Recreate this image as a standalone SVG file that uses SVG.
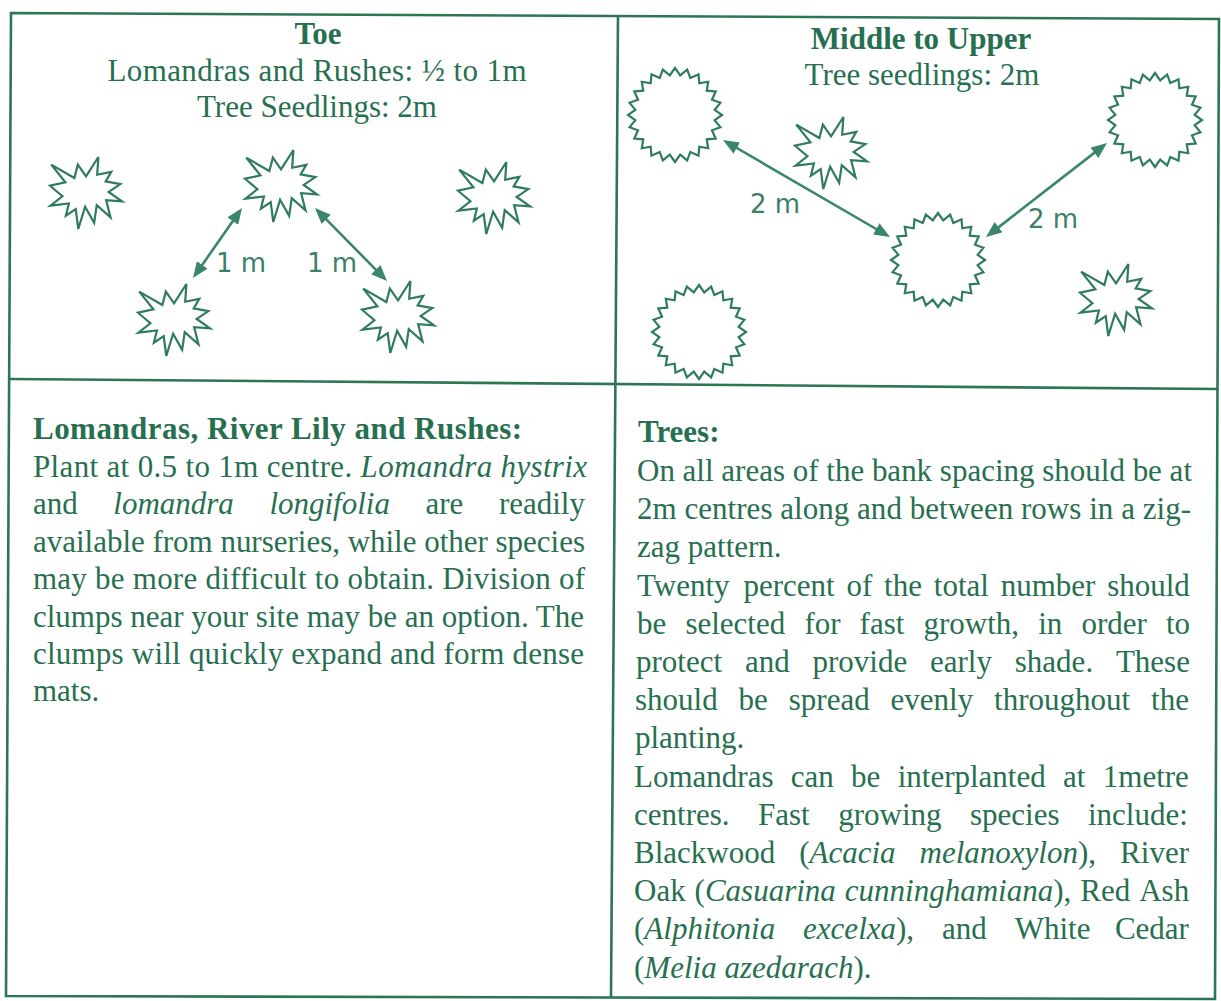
<svg xmlns="http://www.w3.org/2000/svg" width="1221" height="1001" viewBox="0 0 1221 1001">
<style>
.t{font-family:"Liberation Serif","Times New Roman",serif;font-size:31px;fill:#27704f}
.b{font-weight:bold}
.i{font-style:italic}
.c{text-anchor:middle}
.lbl{font-family:"DejaVu Sans","Liberation Sans",sans-serif;font-size:26px;fill:#3b8068}
.plant{fill:none;stroke:#2f7b5d;stroke-width:2.2;stroke-linejoin:miter}
.arr{stroke:#3a866a;stroke-width:2.6;fill:none}
.frame{stroke:#2c7656;stroke-width:2.6;fill:none}
</style>
<defs>
<polygon id="star" class="plant" points="36,19.33 48.41,0 47.18,17.75 61.27,14.86 55.67,24.38 70.32,27.12 58.69,34.92 72,44.3 56.12,43.14 60.48,60.32 46.73,48.19 44.16,65.79 35.11,49.78 28.28,72 25.72,52.09 15.87,58.72 18.89,46.46 0.45,48.62 12.41,39.25 0,28.72 15.42,25.39 1.23,7.65 24.37,21.07 27.84,7.65"/>
<polygon id="ring" class="plant" points="47,0 39.66,5.22 45.4,12.16 36.96,15.31 40.7,23.5 31.74,24.35 33.23,33.23 24.35,31.74 23.5,40.7 15.31,36.96 12.16,45.4 5.22,39.66 0,47 -5.22,39.66 -12.16,45.4 -15.31,36.96 -23.5,40.7 -24.35,31.74 -33.23,33.23 -31.74,24.35 -40.7,23.5 -36.96,15.31 -45.4,12.16 -39.66,5.22 -47,0 -39.66,-5.22 -45.4,-12.16 -36.96,-15.31 -40.7,-23.5 -31.74,-24.35 -33.23,-33.23 -24.35,-31.74 -23.5,-40.7 -15.31,-36.96 -12.16,-45.4 -5.22,-39.66 0,-47 5.22,-39.66 12.16,-45.4 15.31,-36.96 23.5,-40.7 24.35,-31.74 33.23,-33.23 31.74,-24.35 40.7,-23.5 36.96,-15.31 45.4,-12.16 39.66,-5.22"/>
<marker id="ah" viewBox="0 0 16 13" refX="8" refY="6.5" markerWidth="16" markerHeight="13" markerUnits="userSpaceOnUse" orient="auto-start-reverse"><path d="M0,0 L16,6.5 L0,13 Z" fill="#3a866a"/></marker>
</defs>

<g id="frame">
<path class="frame" d="M11,13 L1219,19 L1215,999 L6,996 Z"/>
<path class="frame" d="M618,15 L611,997"/>
<path class="frame" d="M10,379 L1217,389"/>
</g>

<g id="cell-toe">
<text class="t b c" x="318" y="44">Toe</text>
<text class="t c" x="317" y="81" textLength="419" lengthAdjust="spacing">Lomandras and Rushes: ½ to 1m</text>
<text class="t c" x="317" y="117">Tree Seedlings: 2m</text>
</g>
<g id="toe-star-1"><use href="#star" x="50" y="157"/></g>
<g id="toe-star-2"><use href="#star" x="245" y="150"/></g>
<g id="toe-star-3"><use href="#star" x="458" y="162"/></g>
<g id="toe-star-4"><use href="#star" x="138" y="284"/></g>
<g id="toe-star-5"><use href="#star" x="362" y="281"/></g>

<g id="cell-middle-upper">
<text class="t b c" x="921" y="49">Middle to Upper</text>
<text class="t c" x="922" y="85">Tree seedlings: 2m</text>
</g>
<g id="mu-ring-1"><use href="#ring" x="675" y="115"/></g>
<g id="mu-ring-2"><use href="#ring" x="1155" y="120"/></g>
<g id="mu-ring-3"><use href="#ring" x="938" y="260"/></g>
<g id="mu-ring-4"><use href="#ring" x="699" y="332"/></g>
<g id="mu-star-1"><use href="#star" x="795" y="117"/></g>
<g id="mu-star-2"><use href="#star" x="1080" y="264"/></g>

<g id="connectors">
<line class="arr" x1="237.4" y1="214.6" x2="197.6" y2="271.4" marker-start="url(#ah)" marker-end="url(#ah)"/>
<line class="arr" x1="320.6" y1="213.7" x2="381.4" y2="275.3" marker-start="url(#ah)" marker-end="url(#ah)"/>
<line class="arr" x1="729.9" y1="144" x2="883.1" y2="233" marker-start="url(#ah)" marker-end="url(#ah)"/>
<line class="arr" x1="1100.7" y1="147.9" x2="992.3" y2="232.1" marker-start="url(#ah)" marker-end="url(#ah)"/>
<text class="lbl" x="216" y="272">1 m</text>
<text class="lbl" x="307" y="272">1 m</text>
<text class="lbl" x="750" y="213">2 m</text>
<text class="lbl" x="1028" y="228">2 m</text>
</g>

<g id="cell-lomandras">
<text class="t b" x="33" y="439" textLength="489" lengthAdjust="spacing">Lomandras, River Lily and Rushes:</text>
<text class="t" x="33" y="477" textLength="554" lengthAdjust="spacing">Plant at 0.5 to 1m centre. <tspan class="i">Lomandra hystrix</tspan></text>
<text class="t" y="514"><tspan x="33">and</tspan><tspan class="i" x="113.3">lomandra</tspan><tspan class="i" x="269.4">longifolia</tspan><tspan x="425.5">are</tspan><tspan x="498.9">readily</tspan></text>
<text class="t" x="33" y="552" textLength="552" lengthAdjust="spacing">available from nurseries, while other species</text>
<text class="t" x="33" y="589" textLength="552" lengthAdjust="spacing">may be more difficult to obtain. Division of</text>
<text class="t" x="33" y="627" textLength="551" lengthAdjust="spacing">clumps near your site may be an option. The</text>
<text class="t" x="33" y="664" textLength="551" lengthAdjust="spacing">clumps will quickly expand and form dense</text>
<text class="t" x="33" y="701">mats.</text>
</g>

<g id="cell-trees">
<text class="t b" x="638" y="442">Trees:</text>
<text class="t" x="637" y="481" textLength="555" lengthAdjust="spacing">On all areas of the bank spacing should be at</text>
<text class="t" x="637" y="519" textLength="554" lengthAdjust="spacing">2m centres along and between rows in a zig-</text>
<text class="t" x="637" y="557">zag pattern.</text>
<text class="t" y="596"><tspan x="637">Twenty</tspan><tspan x="743.5">percent</tspan><tspan x="846.5">of</tspan><tspan x="884.1">the</tspan><tspan x="933.8">total</tspan><tspan x="1000.7">number</tspan><tspan x="1107.2">should</tspan></text>
<text class="t" y="634"><tspan x="637">be</tspan><tspan x="685.4">selected</tspan><tspan x="804.4">for</tspan><tspan x="859.6">fast</tspan><tspan x="923.5">growth,</tspan><tspan x="1038.2">in</tspan><tspan x="1081.4">order</tspan><tspan x="1165.9">to</tspan></text>
<text class="t" y="672"><tspan x="636">protect</tspan><tspan x="744.9">and</tspan><tspan x="812.5">provide</tspan><tspan x="930">early</tspan><tspan x="1014.8">shade.</tspan><tspan x="1115.9">These</tspan></text>
<text class="t" y="710"><tspan x="635">should</tspan><tspan x="738.6">be</tspan><tspan x="788.8">spread</tspan><tspan x="890.6">evenly</tspan><tspan x="994.1">throughout</tspan><tspan x="1151.1">the</tspan></text>
<text class="t" x="635" y="748">planting.</text>
<text class="t" y="787"><tspan x="634">Lomandras</tspan><tspan x="790.8">can</tspan><tspan x="851.1">be</tspan><tspan x="897.7">interplanted</tspan><tspan x="1063.1">at</tspan><tspan x="1102.8">1metre</tspan></text>
<text class="t" y="825"><tspan x="634">centres.</tspan><tspan x="758">Fast</tspan><tspan x="838.2">growing</tspan><tspan x="970">species</tspan><tspan x="1088">include:</tspan></text>
<text class="t" y="863"><tspan x="634">Blackwood</tspan><tspan x="799.2">(</tspan><tspan class="i">Acacia</tspan><tspan class="i" x="919.6">melanoxylon</tspan><tspan>),</tspan><tspan x="1120.1">River</tspan></text>
<text class="t" y="901"><tspan x="634">Oak</tspan><tspan x="694.6">(</tspan><tspan class="i">Casuarina</tspan><tspan class="i" x="844.8">cunninghamiana</tspan><tspan>),</tspan><tspan x="1080.3">Red</tspan><tspan x="1139.2">Ash</tspan></text>
<text class="t" y="939"><tspan x="634">(</tspan><tspan class="i">Alphitonia</tspan><tspan class="i" x="803.1">excelxa</tspan><tspan>),</tspan><tspan x="942">and</tspan><tspan x="1014.7">White</tspan><tspan x="1114.9">Cedar</tspan></text>
<text class="t" x="634" y="978">(<tspan class="i">Melia azedarach</tspan>).</text>
</g>
</svg>
